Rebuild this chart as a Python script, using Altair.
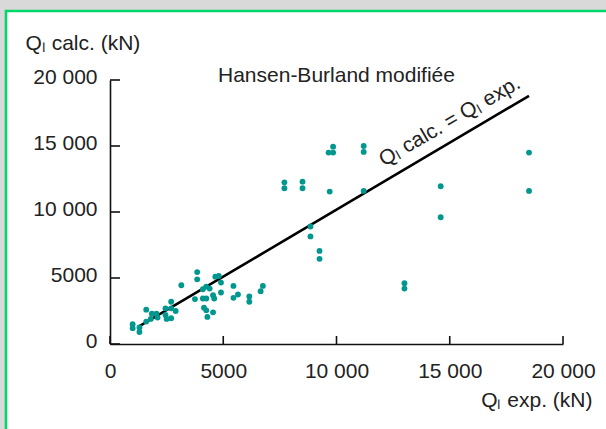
import altair as alt
import pandas as pd

# ---- data ----
q_exp = [1000, 1000, 1300, 1300, 1600, 1600, 1800, 1850, 2050, 2100,
         2450, 2450, 2500, 2700, 2700, 2700, 2900, 3150, 3850, 3850,
         3750, 4100, 4250, 4400, 4100, 4250, 4550, 4600, 4150, 4250,
         4550, 4300, 4650, 4800, 4900, 4900, 5450, 5650, 5450, 6150,
         6150, 6750, 6650, 7700, 7700, 8500, 8500, 9700, 11200, 8850,
         8850, 9250, 9250, 9650, 9850, 9850, 11200, 11200, 14600, 14600,
         18500, 18500, 13000, 13000]
q_calc = [1500, 1200, 1250, 900, 1700, 2600, 1900, 2300, 2300, 2000,
          2700, 2200, 1900, 3200, 2700, 1950, 2500, 4450, 5450, 4900,
          3400, 4150, 4350, 4200, 3450, 3450, 3700, 3450, 2750, 2550,
          2400, 2050, 5100, 5150, 4650, 3900, 4400, 3750, 3500, 3600,
          3200, 4400, 4000, 12250, 11800, 12300, 11800, 11550, 11600, 8900,
          8150, 7050, 6450, 14500, 14500, 14950, 15000, 14550, 11950, 9600,
          14500, 11600, 4600, 4200]

line_x = [1300, 18500]
line_y = [1350, 18800]

x_ticks = [0, 5000, 10000, 15000, 20000]
x_tick_labels = ["0", "5000", "10 000", "15 000", "20 000"]
y_ticks = [0, 5000, 10000, 15000, 20000]
y_tick_labels = ["0", "5000", "10 000", "15 000", "20 000"]

title_text = "Hansen-Burland modifiée"
title_pos = [4768, 19850]
line_label = "Qₗ calc. = Qₗ exp."
line_label_pos = [15408, 15663]
x_title = "Qₗ exp. (kN)"
y_title = "Qₗ calc. (kN)"

# ---- styling ----
FONT = "Liberation Sans"
FS = 21
TXT = "#222222"
AX = "#111111"
TEAL = "#00978f"
W, H = 453, 264


def label_expr(vals, labs):
    expr = "''"
    for v, l in reversed(list(zip(vals, labs))):
        expr = f"datum.value == {v} ? '{l}' : ({expr})"
    return expr


x_axis = alt.Axis(values=x_ticks, labelExpr=label_expr(x_ticks, x_tick_labels),
                  ticks=False, tickSize=0, grid=False, domainColor=AX, domainWidth=1.6,
                  labelFont=FONT, labelFontSize=FS, labelColor=TXT, labelPadding=33,
                  labelBaseline="alphabetic", labelFlush=False, labelOverlap=False,
                  title=x_title, titleFont=FONT, titleFontSize=FS, titleFontWeight="normal",
                  titleColor=TXT, titleAlign="right", titleBaseline="alphabetic",
                  titleX=482, titleY=62, zindex=1)
y_axis = alt.Axis(values=y_ticks, labelExpr=label_expr(y_ticks, y_tick_labels),
                  ticks=False, tickSize=0, grid=False, domainColor=AX, domainWidth=1.6,
                  labelFont=FONT, labelFontSize=FS, labelColor=TXT, labelPadding=13,
                  labelBaseline="alphabetic", labelOffset=3, labelFlush=False,
                  labelOverlap=False,
                  title=y_title, titleFont=FONT, titleFontSize=FS, titleFontWeight="normal",
                  titleColor=TXT, titleAngle=0, titleAlign="left", titleBaseline="alphabetic",
                  titleX=-85, titleY=-31, zindex=1)

xs = alt.Scale(domain=[0, 20000], nice=False)
ys = alt.Scale(domain=[0, 20000], nice=False)

pts = pd.DataFrame({"x": q_exp, "y": q_calc})
ln = pd.DataFrame({"x": line_x, "y": line_y})
xt = pd.DataFrame({"x": x_ticks})
yt = pd.DataFrame({"y": y_ticks})
ann = pd.DataFrame({"x": [title_pos[0]], "y": [title_pos[1]], "t": [title_text]})
lab = pd.DataFrame({"x": [line_label_pos[0]], "y": [line_label_pos[1]], "t": [line_label]})

X = lambda: alt.X("x:Q", scale=xs, axis=x_axis)
Y = lambda: alt.Y("y:Q", scale=ys, axis=y_axis)

frame = alt.Chart(pd.DataFrame({"f": [0]})).mark_rect(
    fill="white", stroke="#00d66a", strokeWidth=2.6
).encode(x=alt.value(-104), x2=alt.value(620), y=alt.value(-69), y2=alt.value(420))

xtick = alt.Chart(xt).mark_rule(color=AX, strokeWidth=1.6).encode(
    x=X(), y=alt.value(H), y2=alt.value(H - 8))
ytick = alt.Chart(yt).mark_rule(color=AX, strokeWidth=1.6).encode(
    y=Y(), x=alt.value(0), x2=alt.value(10))

line = alt.Chart(ln).mark_line(color="black", strokeWidth=2.6).encode(x=X(), y=Y())
points = alt.Chart(pts).mark_circle(size=34, color=TEAL, opacity=1).encode(x=X(), y=Y())

title_mark = alt.Chart(ann).mark_text(font=FONT, fontSize=FS, color=TXT, align="left",
                                      baseline="alphabetic").encode(x=X(), y=Y(), text="t:N")
label_mark = alt.Chart(lab).mark_text(font=FONT, fontSize=FS, color=TXT, align="center",
                                      baseline="alphabetic", angle=330, dy=-12).encode(
    x=X(), y=Y(), text="t:N")

chart = alt.layer(frame, xtick, ytick, line, points, title_mark, label_mark).properties(
    width=W, height=H,
    padding={"left": 110, "top": 80, "right": 43, "bottom": 85},
    autosize=alt.AutoSizeParams(type="none"),
    background="#d9d9d9",
).configure_view(stroke=None)

chart.save("out.html", embed_options={"renderer": "svg", "actions": False})
